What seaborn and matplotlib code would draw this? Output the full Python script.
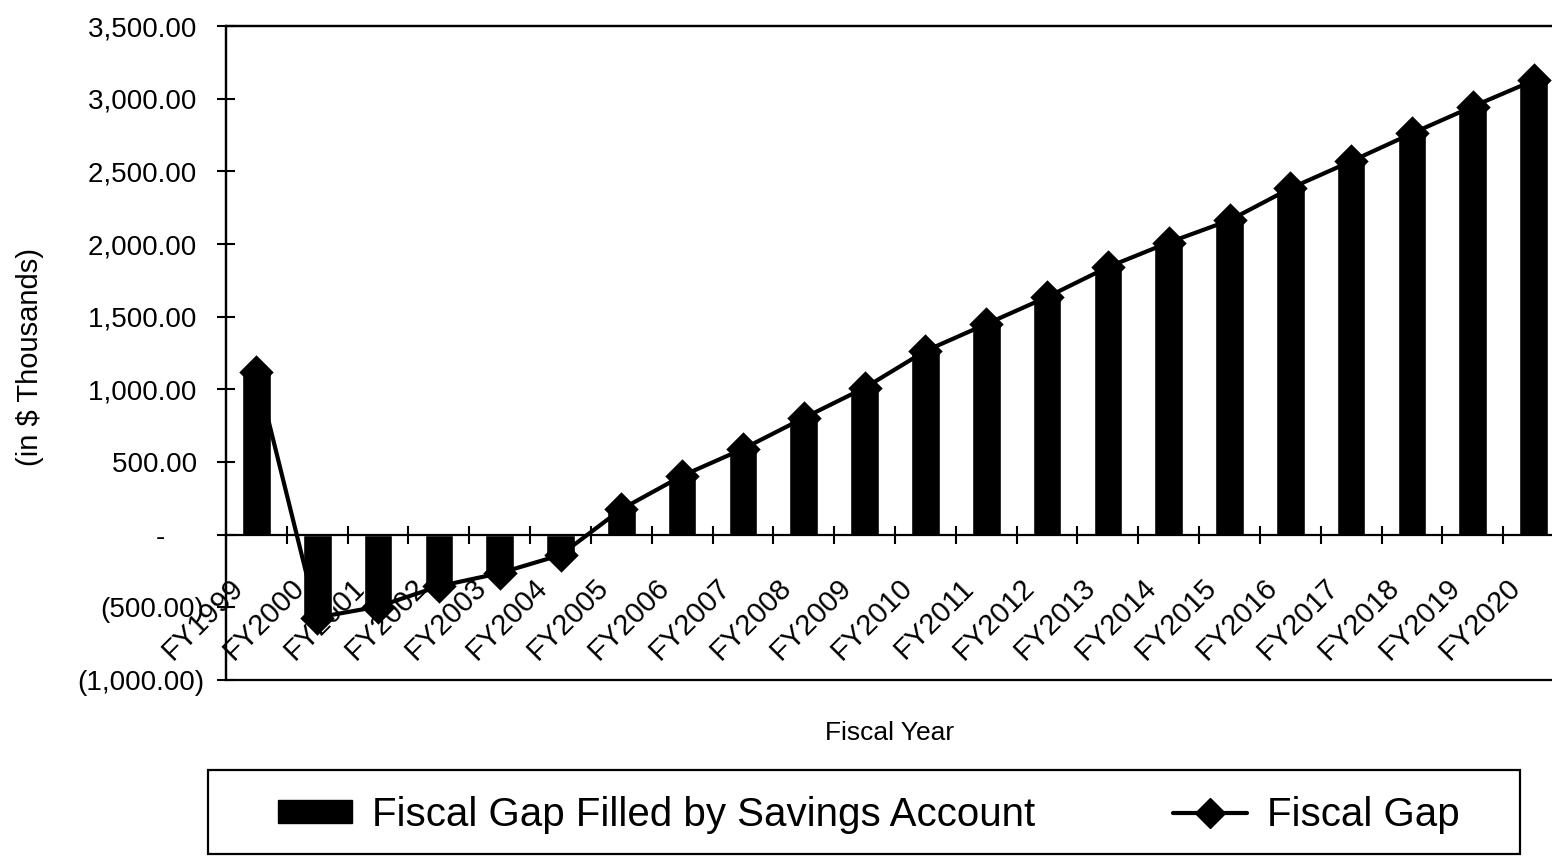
import matplotlib
matplotlib.use("Agg")
import matplotlib.pyplot as plt
from matplotlib import font_manager
from matplotlib.patches import Patch, Rectangle
from matplotlib.lines import Line2D
from matplotlib.ticker import FuncFormatter, FixedLocator
from matplotlib.transforms import ScaledTranslation
import numpy as np
import pandas as pd
import seaborn as sns

# ---- data (in $ thousands) ----
fiscal_years = [
    "FY1999", "FY2000", "FY2001", "FY2002", "FY2003", "FY2004", "FY2005",
    "FY2006", "FY2007", "FY2008", "FY2009", "FY2010", "FY2011", "FY2012",
    "FY2013", "FY2014", "FY2015", "FY2016", "FY2017", "FY2018", "FY2019",
    "FY2020",
]
gap_filled_by_savings = [
    1120, -570, -495, -355, -265, -140, 175, 405, 590, 803, 1010,
    1264, 1449, 1635, 1841, 2010, 2163, 2383, 2569, 2761, 2946, 3125,
]
fiscal_gap = [
    1120, -570, -495, -355, -265, -140, 175, 405, 590, 803, 1010,
    1264, 1449, 1635, 1841, 2010, 2163, 2383, 2569, 2761, 2946, 3125,
]
y_ticks = [-1000, -500, 0, 500, 1000, 1500, 2000, 2500, 3000, 3500]

bar_label = "Fiscal Gap Filled by Savings Account"
line_label = "Fiscal Gap"

sns.set_theme(style="white")
plt.rcParams["font.family"] = ["Liberation Sans", "DejaVu Sans"]
plt.rcParams["text.color"] = "black"
plt.rcParams["axes.labelcolor"] = "black"


def font_available(name):
    try:
        font_manager.findfont(font_manager.FontProperties(family=name),
                              fallback_to_default=False)
        return True
    except ValueError:
        return False


W, H = 1552, 856
fig = plt.figure(figsize=(W / 100, H / 100), dpi=100)
fig.patch.set_facecolor("white")
ax = fig.add_axes([226 / W, 1 - 680 / H, 1338 / W, 654 / H])

df = pd.DataFrame({"year": fiscal_years,
                   "filled": gap_filled_by_savings,
                   "gap": fiscal_gap})

sns.barplot(data=df, x="year", y="filled", color="black", saturation=1,
            width=0.47, errorbar=None, ax=ax, zorder=2)
sns.pointplot(data=df, x="year", y="gap", color="black", markers="D",
              errorbar=None, markersize=15, linewidth=3, ax=ax, zorder=3)

ax.set_xlim(-0.5, len(fiscal_years) - 0.5)
ax.set_ylim(y_ticks[0], y_ticks[-1])

# frame around the plot area, category axis crossing at zero
for side in ["left", "right", "top", "bottom"]:
    ax.spines[side].set_color("black")
    ax.spines[side].set_linewidth(1.6)
    ax.spines[side].set_visible(True)
ax.spines["bottom"].set_position(("data", 0))
ax.add_patch(Rectangle((0, 0), 1, 1, transform=ax.transAxes, fill=False,
                       edgecolor="black", linewidth=1.6, zorder=1,
                       clip_on=False))


def accounting(v, pos):
    if v == 0:
        return "-     "
    if v < 0:
        return f"({-v:,.2f})"
    return f"{v:,.2f} "


ax.set_yticks(y_ticks)
ax.yaxis.set_major_formatter(FuncFormatter(accounting))
ax.tick_params(axis="y", direction="inout", length=13, width=1.5,
               color="black", pad=9, labelsize=20, labelcolor="black",
               left=True)

ax.set_xticks(range(len(fiscal_years)))
ax.set_xticklabels(fiscal_years, rotation=45, ha="right", va="top",
                   rotation_mode="anchor", fontsize=21)
ax.xaxis.set_minor_locator(FixedLocator(np.arange(0.5, len(fiscal_years) - 1, 1)))
ax.tick_params(axis="x", which="major", length=0, pad=28, labelcolor="black",
               bottom=True)
ax.tick_params(axis="x", which="minor", direction="inout", length=13,
               width=1.5, color="black", bottom=True)
shift = ScaledTranslation(-0.27, 0, fig.dpi_scale_trans)
for lab in ax.get_xticklabels():
    lab.set_transform(lab.get_transform() + shift)

ax.set_xlabel("Fiscal Year", fontsize=19)
ax.xaxis.set_label_coords(0.496, -0.062)
ax.set_ylabel("(in $ Thousands)", fontsize=21)
ax.yaxis.set_label_coords(-0.136, 0.494)
ax.grid(False)

# legend below the chart
if font_available("Liberation Sans Narrow"):
    leg_family, leg_size = "Liberation Sans Narrow", 35
else:
    leg_family, leg_size = "Liberation Sans", 29
em = leg_size * 100 / 72
handles = [
    Patch(facecolor="black", edgecolor="black"),
    Line2D([], [], color="black", linewidth=3, marker="D", markersize=15),
]
fig.legend(handles, [bar_label, line_label], loc="center left",
           bbox_to_anchor=(278 / W, 1 - 815 / H), bbox_transform=fig.transFigure,
           ncol=2, frameon=False, borderpad=0, borderaxespad=0,
           handlelength=74 / em, handleheight=0.5, handletextpad=20 / em,
           columnspacing=138 / em,
           prop=font_manager.FontProperties(family=leg_family, size=leg_size))
fig.add_artist(Rectangle((208 / W, 1 - 854 / H), 1312 / W, 84 / H,
                         transform=fig.transFigure, fill=False,
                         edgecolor="black", linewidth=1.6))

fig.savefig("out.png", dpi=100, facecolor="white")
